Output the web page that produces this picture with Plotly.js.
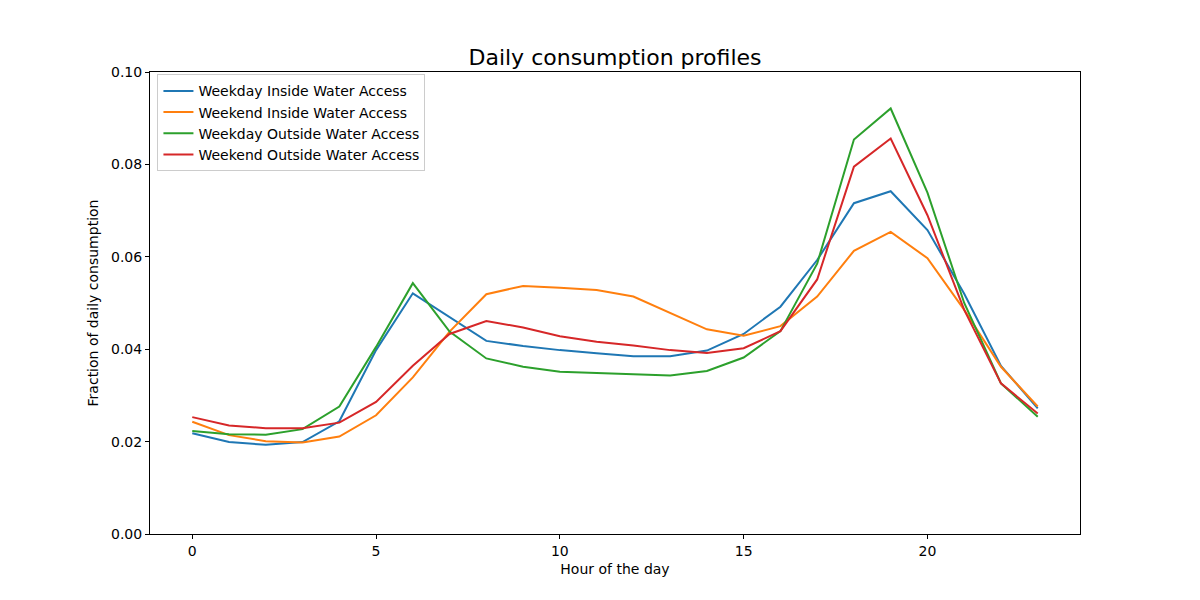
<!DOCTYPE html>
<html>
<head>
<meta charset="utf-8">
<script src="https://cdn.plot.ly/plotly-3.0.1.min.js"></script>
<style>
  body { margin: 0; }
  #chart { width: 1200px; height: 600px; }
</style>
</head>
<body>
<div id="chart"></div>
<script>
const hours = [...Array(24).keys()];

const weekdayInside = [0.0218, 0.0199, 0.0193, 0.0199, 0.0244, 0.0398, 0.0521, 0.0470,
    0.0418, 0.0407, 0.0398, 0.0391, 0.0385, 0.0385, 0.0397, 0.0433,
    0.0492, 0.0593, 0.0716, 0.0742, 0.0658, 0.0520, 0.0364, 0.0272];
const weekendInside = [0.0243, 0.0214, 0.0201, 0.0198, 0.0211, 0.0257, 0.0339, 0.0438,
    0.0519, 0.0537, 0.0533, 0.0528, 0.0514, 0.0478, 0.0443, 0.0429,
    0.0450, 0.0514, 0.0613, 0.0654, 0.0597, 0.0485, 0.0362, 0.0276];
const weekdayOutside = [0.0223, 0.0216, 0.0215, 0.0227, 0.0276, 0.0405, 0.0543, 0.0438,
    0.0380, 0.0362, 0.0351, 0.0348, 0.0346, 0.0343, 0.0353, 0.0382,
    0.0439, 0.0585, 0.0854, 0.0921, 0.0739, 0.0500, 0.0326, 0.0254];
const weekendOutside = [0.0253, 0.0235, 0.0229, 0.0229, 0.0241, 0.0286, 0.0364, 0.0433,
    0.0461, 0.0447, 0.0428, 0.0416, 0.0408, 0.0398, 0.0392, 0.0402,
    0.0439, 0.0551, 0.0795, 0.0856, 0.0690, 0.0485, 0.0326, 0.0261];

const seriesNames = ['Weekday Inside Water Access', 'Weekend Inside Water Access',
    'Weekday Outside Water Access', 'Weekend Outside Water Access'];
const seriesColors = ['#1f77b4', '#ff7f0e', '#2ca02c', '#d62728'];
const seriesValues = [weekdayInside, weekendInside, weekdayOutside, weekendOutside];

function makeTraces() {
    return seriesValues.map((vals, i) => ({
        x: hours,
        y: vals,
        name: seriesNames[i],
        mode: 'lines',
        line: {color: seriesColors[i], width: 2}
    }));
}

const axisStyle = {
    showgrid: false,
    zeroline: false,
    showline: true,
    mirror: true,
    linecolor: 'black',
    linewidth: 1,
    ticks: 'outside',
    ticklen: 4,
    tickcolor: 'black',
    tickfont: {size: 14, color: 'black'}
};

Plotly.newPlot('chart', makeTraces(), {
    width: 1200,
    height: 600,
    margin: {l: 150, r: 120, t: 72, b: 66},
    paper_bgcolor: 'white',
    plot_bgcolor: 'white',
    font: {family: 'DejaVu Sans', color: 'black'},
    title: {
        text: 'Daily consumption profiles',
        font: {size: 22},
        x: 0.5125,
        xanchor: 'center',
        y: 0.905,
        yanchor: 'middle'
    },
    xaxis: Object.assign({}, axisStyle, {
        range: [-1.15, 24.15],
        tickvals: [0, 5, 10, 15, 20],
        title: {text: 'Hour of the day', font: {size: 14}, standoff: 6}
    }),
    yaxis: Object.assign({}, axisStyle, {
        range: [0, 0.1],
        dtick: 0.02,
        tickformat: '.2f',
        title: {text: 'Fraction of daily consumption', font: {size: 14}, standoff: 9}
    }),
    legend: {
        x: 0.008,
        y: 0.995,
        xanchor: 'left',
        yanchor: 'top',
        bgcolor: 'rgba(255,255,255,0.8)',
        bordercolor: '#cccccc',
        borderwidth: 1,
        font: {size: 14},
        tracegroupgap: 0
    },
    showlegend: true
}, {displayModeBar: false});
</script>
</body>
</html>
